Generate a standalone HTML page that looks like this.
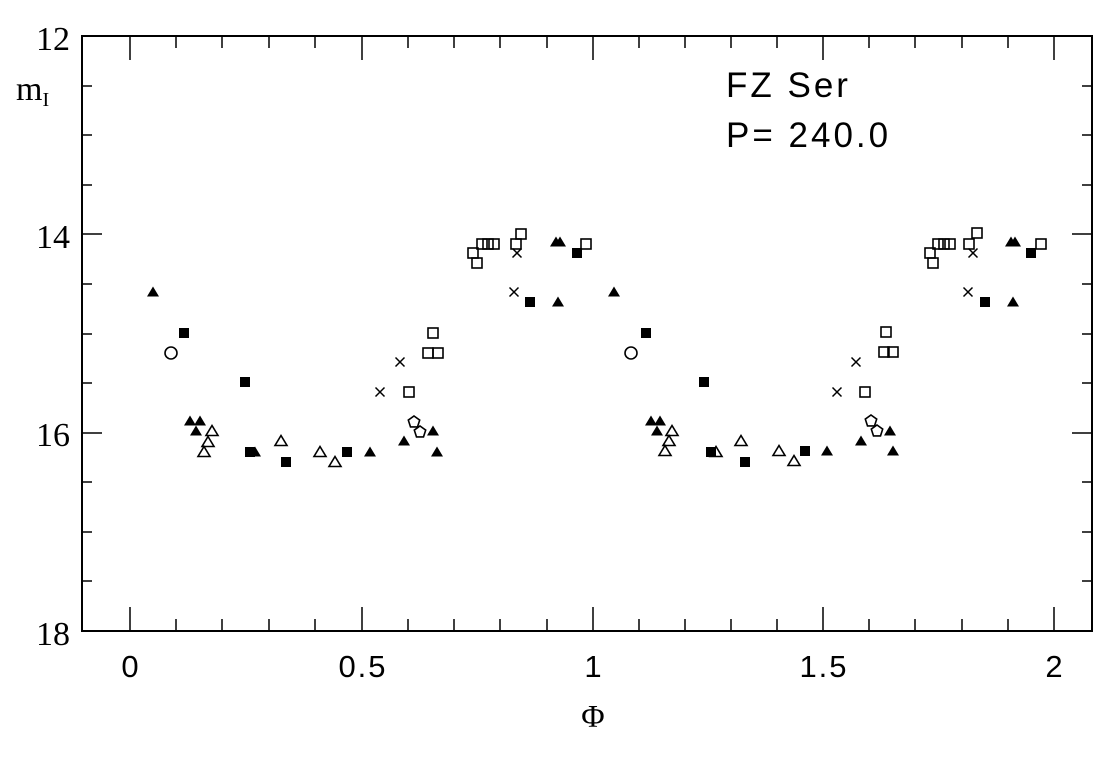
<!DOCTYPE html>
<html><head><meta charset="utf-8"><style>
html,body{margin:0;padding:0;background:#fff;}
svg text{fill:#000;}
</style></head><body>
<svg width="1120" height="752" viewBox="0 0 1120 752" xmlns="http://www.w3.org/2000/svg">
<defs>
<polygon id="ft" points="0,-5.5 6,4.5 -6,4.5" fill="#000"/>
<polygon id="ot" points="0,-5.5 6,4.5 -6,4.5" fill="none" stroke="#000" stroke-width="1.6"/>
<rect id="fs" x="-5" y="-5" width="10" height="10" fill="#000"/>
<rect id="os" x="-5" y="-5" width="10" height="10" fill="none" stroke="#000" stroke-width="1.6"/>
<circle id="oc" r="6" fill="none" stroke="#000" stroke-width="1.6"/>
<polygon id="op" points="0,-6 5.7,-1.9 3.5,4.9 -3.5,4.9 -5.7,-1.9" fill="none" stroke="#000" stroke-width="1.6"/>
<path id="xx" d="M-4.5,-4.5L4.5,4.5M-4.5,4.5L4.5,-4.5" stroke="#000" stroke-width="1.5"/>
</defs>
<rect x="82" y="36" width="1010" height="595" fill="none" stroke="#000" stroke-width="2"/>
<g stroke="#000" stroke-width="1.5">
<path d="M130,631v-24M362,631v-24M593,631v-24M823,631v-24M1054,631v-24M130,36v24M362,36v24M593,36v24M823,36v24M1054,36v24"/>
<path d="M176,631v-12M222,631v-12M269,631v-12M315,631v-12M408,631v-12M454,631v-12M500,631v-12M547,631v-12M639,631v-12M685,631v-12M731,631v-12M777,631v-12M869,631v-12M915,631v-12M962,631v-12M1008,631v-12M176,36v12M222,36v12M269,36v12M315,36v12M408,36v12M454,36v12M500,36v12M547,36v12M639,36v12M685,36v12M731,36v12M777,36v12M869,36v12M915,36v12M962,36v12M1008,36v12"/>
<path d="M82,234h20M82,433h20M1092,234h-20M1092,433h-20"/>
<path d="M82,86h10M82,135h10M82,185h10M82,284h10M82,334h10M82,383h10M82,482h10M82,532h10M82,581h10M1092,86h-10M1092,135h-10M1092,185h-10M1092,284h-10M1092,334h-10M1092,383h-10M1092,482h-10M1092,532h-10M1092,581h-10"/>
</g>
<g font-family="Liberation Serif, serif" font-size="34" text-anchor="end">
<text x="70" y="50">12</text>
<text x="70" y="248">14</text>
<text x="70" y="446">16</text>
<text x="70" y="645">18</text>
</g>
<text x="16" y="100" font-family="Liberation Serif, serif" font-size="34">m<tspan font-size="20" dy="6">I</tspan></text>
<g font-family="Liberation Sans, sans-serif" font-size="31" text-anchor="middle" letter-spacing="2">
<text x="131" y="677">0</text>
<text x="363" y="677">0.5</text>
<text x="594" y="677">1</text>
<text x="824" y="677">1.5</text>
<text x="1055" y="677">2</text>
</g>
<text x="593" y="727" font-family="Liberation Serif, serif" font-size="32" text-anchor="middle">Φ</text>
<g font-family="Liberation Sans, sans-serif" font-size="35" letter-spacing="3">
<text x="726" y="97">FZ Ser</text>
<text x="726" y="147">P= 240.0</text>
</g>
<g>
<use href="#ft" x="153" y="292"/><use href="#fs" x="184" y="333"/><use href="#oc" x="171" y="353"/><use href="#fs" x="245" y="382"/>
<use href="#ft" x="190" y="421"/><use href="#ft" x="200" y="421"/><use href="#ft" x="196" y="431"/>
<use href="#ot" x="212" y="431"/><use href="#ot" x="208" y="442"/><use href="#ot" x="204" y="452"/>
<use href="#ft" x="255" y="452"/><use href="#fs" x="250" y="452"/><use href="#fs" x="286" y="462"/>
<use href="#ot" x="281" y="441"/><use href="#ot" x="320" y="452"/><use href="#ot" x="335" y="462"/>
<use href="#fs" x="347" y="452"/>
<use href="#ft" x="370" y="452"/><use href="#ft" x="404" y="441"/><use href="#ft" x="433" y="431"/><use href="#ft" x="437" y="452"/>
<use href="#op" x="414" y="422"/><use href="#op" x="420" y="432"/>
<use href="#xx" x="380" y="392"/><use href="#xx" x="400" y="362"/>
<use href="#os" x="409" y="392"/><use href="#os" x="433" y="333"/><use href="#os" x="428" y="353"/><use href="#os" x="438" y="353"/>
<use href="#os" x="473" y="253"/><use href="#os" x="477" y="263"/><use href="#os" x="482" y="244"/><use href="#os" x="488" y="244"/><use href="#os" x="494" y="244"/>
<use href="#os" x="516" y="244"/><use href="#os" x="521" y="234"/>
<use href="#xx" x="517" y="253"/><use href="#xx" x="514" y="292"/>
<use href="#fs" x="530" y="302"/><use href="#ft" x="556" y="242"/><use href="#ft" x="560" y="242"/><use href="#ft" x="558" y="302"/>
<use href="#fs" x="577" y="253"/><use href="#os" x="586" y="244"/>

<use href="#ft" x="614" y="292"/><use href="#fs" x="646" y="333"/><use href="#oc" x="631" y="353"/><use href="#fs" x="704" y="382"/>
<use href="#ft" x="651" y="421"/><use href="#ft" x="660" y="421"/><use href="#ft" x="657" y="431"/>
<use href="#ot" x="672" y="431"/><use href="#ot" x="669" y="441"/><use href="#ot" x="665" y="451"/>
<use href="#ot" x="716" y="452"/><use href="#fs" x="711" y="452"/><use href="#fs" x="745" y="462"/>
<use href="#ot" x="741" y="441"/><use href="#ot" x="779" y="451"/><use href="#ot" x="794" y="461"/>
<use href="#fs" x="805" y="451"/>
<use href="#ft" x="827" y="451"/><use href="#ft" x="861" y="441"/><use href="#ft" x="890" y="431"/><use href="#ft" x="893" y="451"/>
<use href="#op" x="871" y="421"/><use href="#op" x="877" y="431"/>
<use href="#xx" x="837" y="392"/><use href="#xx" x="856" y="362"/>
<use href="#os" x="865" y="392"/><use href="#os" x="886" y="332"/><use href="#os" x="884" y="352"/><use href="#os" x="893" y="352"/>
<use href="#os" x="930" y="253"/><use href="#os" x="933" y="263"/><use href="#os" x="938" y="244"/><use href="#os" x="944" y="244"/><use href="#os" x="950" y="244"/>
<use href="#os" x="969" y="244"/><use href="#os" x="977" y="233"/>
<use href="#xx" x="973" y="253"/><use href="#xx" x="968" y="292"/>
<use href="#fs" x="985" y="302"/><use href="#ft" x="1011" y="242"/><use href="#ft" x="1015" y="242"/><use href="#ft" x="1013" y="302"/>
<use href="#fs" x="1031" y="253"/><use href="#os" x="1041" y="244"/>
</g>
</svg>
</body></html>
